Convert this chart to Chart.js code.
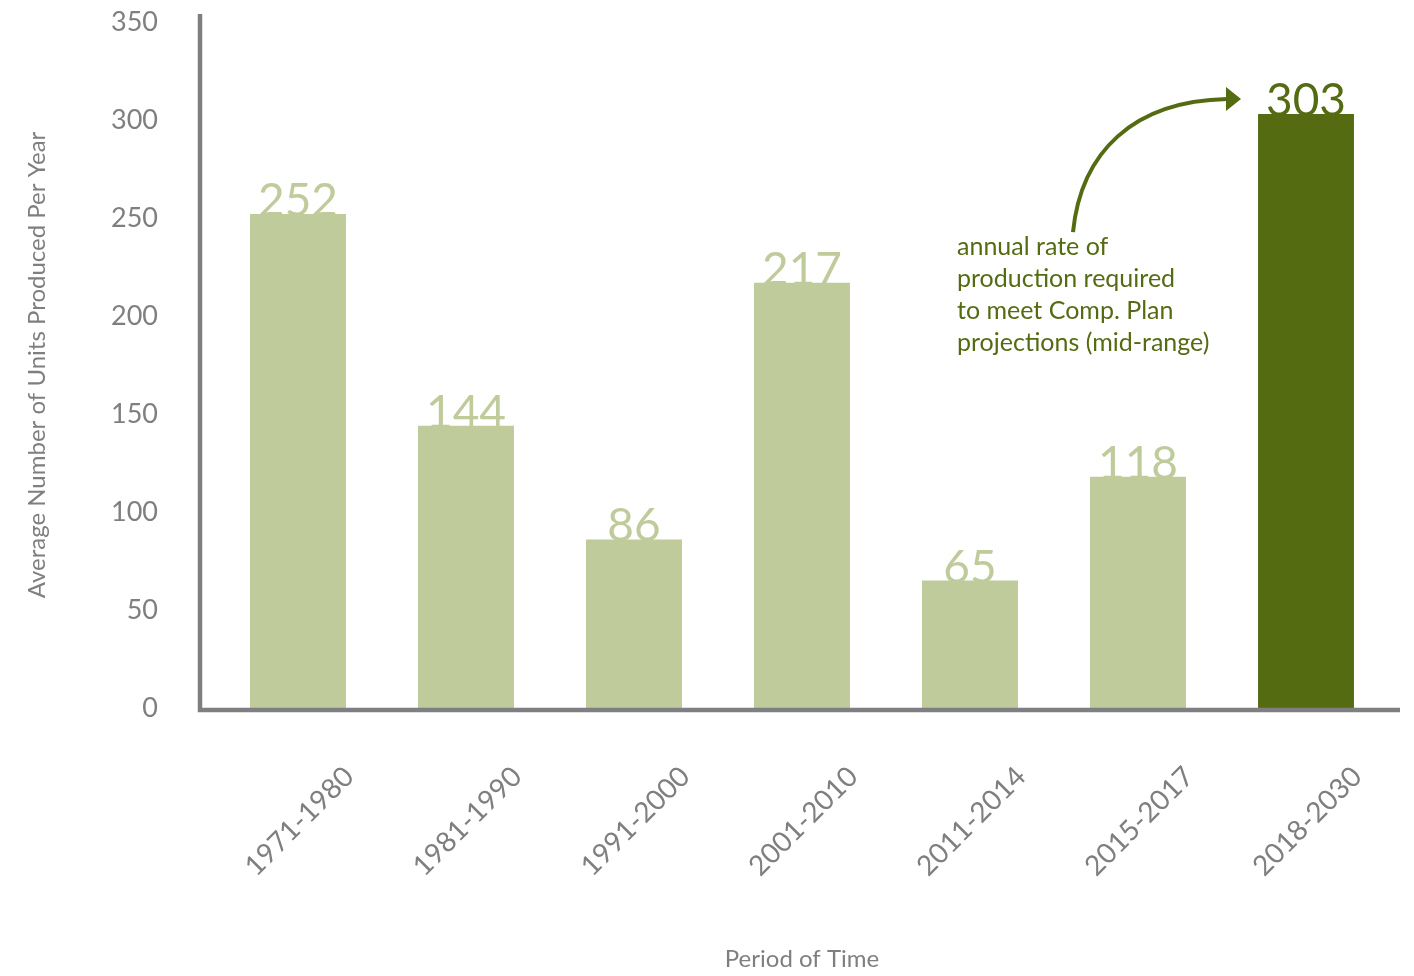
<!DOCTYPE html>
<html>
<head>
<meta charset="utf-8">
<script src="https://cdn.jsdelivr.net/npm/chart.js@4"></script>
<style>
  html, body { margin: 0; padding: 0; background: #ffffff; }
  #wrap { width: 1414px; height: 976px; position: relative; }
</style>
</head>
<body>
<div id="wrap"><canvas id="c" width="1414" height="976"></canvas></div>
<script>
const categories = ["1971-1980", "1981-1990", "1991-2000", "2001-2010", "2011-2014", "2015-2017", "2018-2030"];
const unitsPerYear = [252, 144, 86, 217, 65, 118, 303];
const yTicks = [0, 50, 100, 150, 200, 250, 300, 350];
const annotationLines = ["annual rate of", "production required", "to meet Comp. Plan", "projections (mid-range)"];

const LIGHT = "#bfcb9a";
const DARK = "#556b12";
const GRAY = "#7f7f7f";
const AXIS = "#7f7f83";
const FONT = "Lato, 'Open Sans', sans-serif";

const barColors = unitsPerYear.map((v, i) => i === unitsPerYear.length - 1 ? DARK : LIGHT);

const valueLabels = {
  id: "valueLabels",
  beforeDatasetsDraw(chart) {
    const ctx = chart.ctx;
    const meta = chart.getDatasetMeta(0);
    ctx.save();
    ctx.font = "46px " + FONT;
    ctx.textAlign = "center";
    ctx.textBaseline = "alphabetic";
    meta.data.forEach((bar, i) => {
      ctx.fillStyle = barColors[i];
      ctx.fillText(String(unitsPerYear[i]), bar.x, bar.y + 2);
    });
    ctx.restore();
  }
};

const axesAndNote = {
  id: "axesAndNote",
  afterDatasetsDraw(chart) {
    const ctx = chart.ctx;
    const a = chart.chartArea;
    const y = chart.scales.y;
    ctx.save();
    ctx.strokeStyle = AXIS;
    ctx.lineWidth = 4.5;
    ctx.lineCap = "butt";
    ctx.beginPath();
    ctx.moveTo(a.left - 14, a.top - 8);
    ctx.lineTo(a.left - 14, a.bottom + 2);
    ctx.lineTo(a.right + 10, a.bottom + 2);
    ctx.stroke();

    // annotation arrow
    const last = chart.getDatasetMeta(0).data[unitsPerYear.length - 1];
    const tipX = last.x - 65;
    const tipY = y.getPixelForValue(unitsPerYear[unitsPerYear.length - 1]) - 15;
    const sx = tipX - 168, sy = tipY + 133;
    ctx.strokeStyle = DARK;
    ctx.lineWidth = 4;
    ctx.beginPath();
    ctx.moveTo(sx, sy);
    ctx.bezierCurveTo(sx + 8, sy - 80, sx + 60, tipY + 2, tipX - 14, tipY);
    ctx.stroke();
    ctx.fillStyle = DARK;
    ctx.beginPath();
    ctx.moveTo(tipX, tipY);
    ctx.lineTo(tipX - 15, tipY - 12);
    ctx.lineTo(tipX - 15, tipY + 12);
    ctx.closePath();
    ctx.fill();

    // annotation text
    ctx.font = "25px " + FONT;
    ctx.textAlign = "left";
    ctx.textBaseline = "middle";
    annotationLines.forEach((t, i) => {
      ctx.fillText(t, sx - 116, sy + 15 + i * 32);
    });
    ctx.restore();
  }
};

new Chart(document.getElementById("c"), {
  type: "bar",
  data: {
    labels: categories,
    datasets: [{
      data: unitsPerYear,
      backgroundColor: barColors,
      borderWidth: 0,
      barPercentage: 0.571,
      categoryPercentage: 1.0
    }]
  },
  options: {
    responsive: false,
    animation: false,
    devicePixelRatio: 1,
    layout: { padding: { left: 21, right: 24, top: 22, bottom: 0 } },
    plugins: { legend: { display: false }, tooltip: { enabled: false } },
    scales: {
      x: {
        grid: { display: false, drawTicks: false },
        border: { display: false },
        ticks: {
          autoSkip: false,
          maxRotation: 45,
          minRotation: 45,
          labelOffset: 51,
          padding: 52,
          color: GRAY,
          font: { family: FONT, size: 28 }
        },
        title: {
          display: true,
          text: "Period of Time",
          color: GRAY,
          font: { family: FONT, size: 24 },
          padding: { top: 0, bottom: 2 }
        },
        afterFit(scale) {
          scale.height = 268;
          scale.paddingLeft = 0; scale.paddingRight = 0;
          scale.paddingTop = 0; scale.paddingBottom = 0;
        }
      },
      y: {
        min: 0,
        max: 350,
        grid: { display: false, drawTicks: false },
        border: { display: false },
        afterBuildTicks(scale) { scale.ticks = yTicks.map(v => ({ value: v })); },
        ticks: {
          stepSize: 50,
          padding: 56,
          color: GRAY,
          font: { family: FONT, size: 27 }
        },
        title: {
          display: true,
          text: "Average Number of Units Produced Per Year",
          color: GRAY,
          font: { family: FONT, size: 24 },
          padding: { top: 2, bottom: 0 }
        },
        afterFit(scale) {
          scale.width = 193;
          scale.paddingTop = 0; scale.paddingBottom = 0;
        }
      }
    }
  },
  plugins: [valueLabels, axesAndNote]
});
</script>
</body>
</html>
